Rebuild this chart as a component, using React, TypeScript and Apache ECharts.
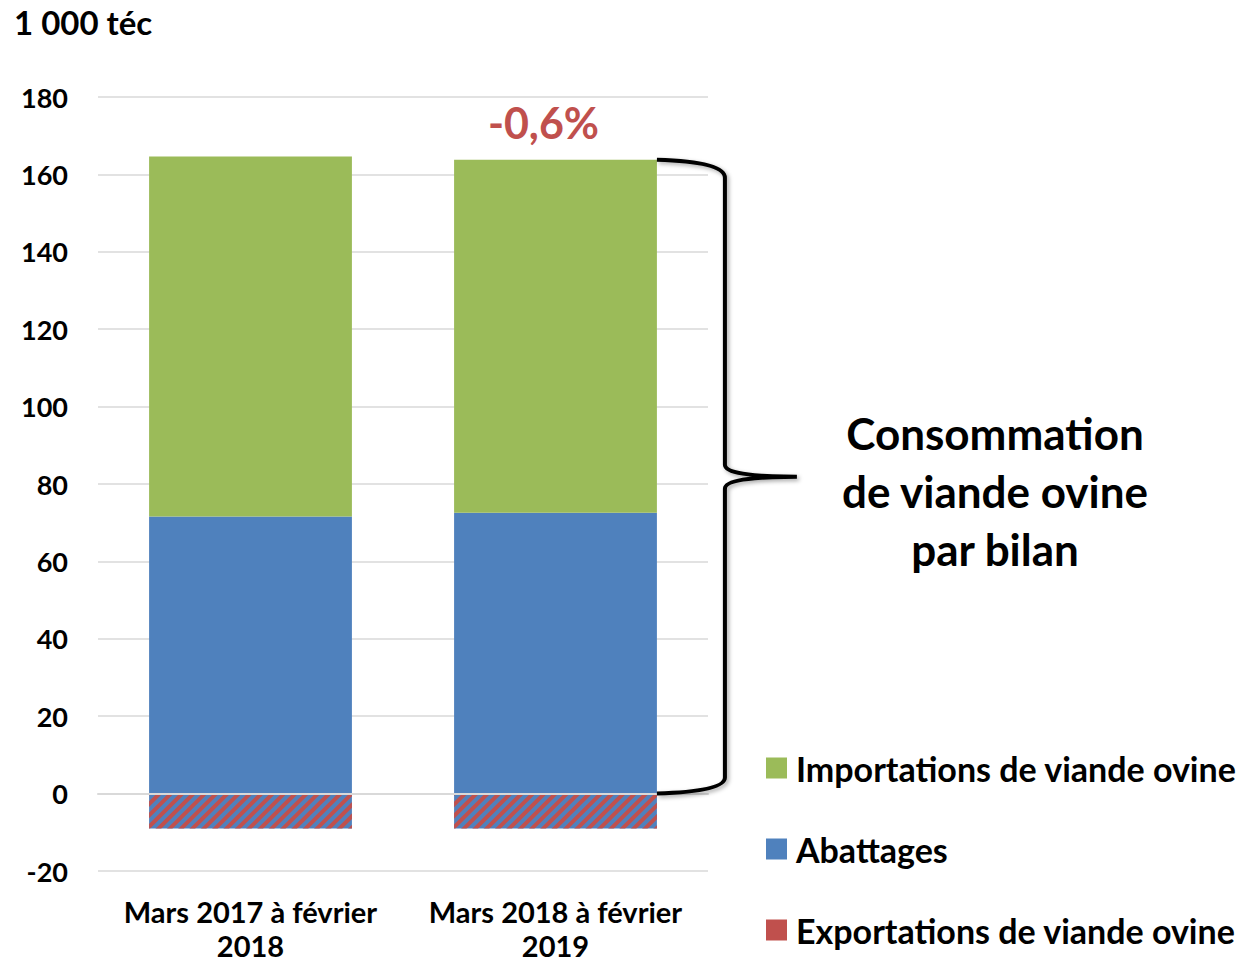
import React, { useEffect, useRef } from 'react';
import * as echarts from 'echarts';

const categories = ['Mars 2017 à février\n2018', 'Mars 2018 à février\n2019'];
const importations = [93.0, 91.2];
const abattages = [71.6, 72.6];
const exportations = [-9.0, -9.0];
const yMin = -20;
const yMax = 180;
const yInterval = 20;
const unitLabel = '1 000 téc';
const changeLabel = '-0,6%';
const braceText = 'Consommation\nde viande ovine\npar bilan';
const seriesNames = ['Importations de viande ovine', 'Abattages', 'Exportations de viande ovine'];

const GREEN = '#9BBB59';
const BLUE = '#4F81BD';
const RED = '#C0504D';
const FONT = 'Lato, "Open Sans", sans-serif';

export default function App() {
  const ref = useRef<HTMLDivElement>(null);
  useEffect(() => {
    document.body.style.margin = '0';
    const chart = echarts.init(ref.current!, null, { renderer: 'svg' });
    const option: any = {
      animation: false,
      backgroundColor: '#ffffff',
      textStyle: { fontFamily: FONT },
      grid: { left: 98, right: 539, top: 97, bottom: 91, containLabel: false, outerBoundsMode: 'none' },
      legend: {
        orient: 'vertical',
        left: 766,
        top: 750,
        padding: 0,
        itemWidth: 21,
        itemHeight: 21,
        itemGap: 45,
        icon: 'rect',
        textStyle: {
          fontSize: 34,
          lineHeight: 36,
          fontWeight: 'bold',
          color: '#000',
          fontFamily: FONT,
          padding: [0, 0, 0, 4],
        },
        data: [
          { name: seriesNames[0] },
          { name: seriesNames[1] },
          { name: seriesNames[2], itemStyle: { color: RED, decal: 'none' } },
        ],
      },
      xAxis: {
        type: 'category',
        data: categories,
        z: 5,
        axisLine: { lineStyle: { color: '#D9D9D9', width: 2 }, onZero: true },
        axisTick: { show: false },
        axisLabel: {
          fontSize: 29,
          fontWeight: 'bold',
          color: '#000',
          lineHeight: 34,
          margin: 23,
          interval: 0,
          fontFamily: FONT,
        },
      },
      yAxis: {
        type: 'value',
        min: yMin,
        max: yMax,
        interval: yInterval,
        axisLine: { show: false },
        axisTick: { show: false },
        splitLine: { lineStyle: { color: '#D9D9D9', width: 1.5 } },
        axisLabel: { fontSize: 27, fontWeight: 'bold', color: '#000', margin: 30, fontFamily: FONT },
      },
      series: [
        {
          name: seriesNames[2],
          type: 'bar',
          stack: 'total',
          barWidth: '66.5%',
          data: exportations,
          itemStyle: {
            color: BLUE,
            decal: {
              symbol: 'rect',
              color: RED,
              dashArrayX: [1, 0],
              dashArrayY: [3.3, 3.3],
              rotation: -Math.PI / 4,
              symbolSize: 1,
            },
          },
        },
        {
          name: seriesNames[1],
          type: 'bar',
          stack: 'total',
          barWidth: '66.5%',
          data: abattages,
          itemStyle: { color: BLUE },
        },
        {
          name: seriesNames[0],
          type: 'bar',
          stack: 'total',
          barWidth: '66.5%',
          data: importations,
          itemStyle: { color: GREEN },
        },
      ],
    };
    chart.setOption(option);

    // Brace computed from axis positions
    const total1 = abattages[1] + importations[1];
    const topPt = chart.convertToPixel({ gridIndex: 0 }, [1, total1]) as number[];
    const zeroPt = chart.convertToPixel({ gridIndex: 0 }, [1, 0]) as number[];
    const catW = (chart.convertToPixel({ xAxisIndex: 0 }, 1) as number) - (chart.convertToPixel({ xAxisIndex: 0 }, 0) as number);
    const x0 = topPt[0] + (catW * 0.665) / 2;
    const xv = x0 + 68;
    const xp = x0 + 140;
    const y1 = topPt[1];
    const y0 = zeroPt[1];
    const ym = y1 + (y0 - y1) * 0.5;
    const d = `M ${x0} ${y1} Q ${xv} ${y1 + 2} ${xv} ${y1 + 18} L ${xv} ${ym - 12} Q ${xv} ${ym} ${xp} ${ym} Q ${xv} ${ym} ${xv} ${ym + 12} L ${xv} ${y0 - 16} Q ${xv} ${y0 - 2} ${x0} ${y0}`;
    echarts.graphic.registerShape('brace', echarts.graphic.extendPath(d, {}) as any);

    chart.setOption({
      graphic: [
        {
          type: 'brace',
          x: 0,
          y: 0,
          z: 10,
          style: {
            stroke: '#000',
            lineWidth: 4,
            fill: 'none',
            shadowBlur: 4,
            shadowColor: 'rgba(0,0,0,0.35)',
            shadowOffsetX: 2,
            shadowOffsetY: 2,
          },
        },
        {
          type: 'text',
          x: 14,
          y: 22,
          style: { text: unitLabel, fontSize: 33, fontWeight: 'bold', fill: '#000', fontFamily: FONT, verticalAlign: 'middle' },
        },
        {
          type: 'text',
          x: topPt[0] - 12,
          y: 122,
          style: {
            text: changeLabel,
            fontSize: 43,
            fontWeight: 'bold',
            fill: RED,
            fontFamily: FONT,
            align: 'center',
            verticalAlign: 'middle',
          },
        },
        {
          type: 'text',
          x: 995,
          y: 491,
          style: {
            text: braceText,
            fontSize: 44,
            lineHeight: 58,
            fontWeight: 'bold',
            fill: '#000',
            fontFamily: FONT,
            align: 'center',
            verticalAlign: 'middle',
          },
        },
      ],
    });

    return () => chart.dispose();
  }, []);
  return <div ref={ref} style={{ width: 1247, height: 962 }} />;
}
